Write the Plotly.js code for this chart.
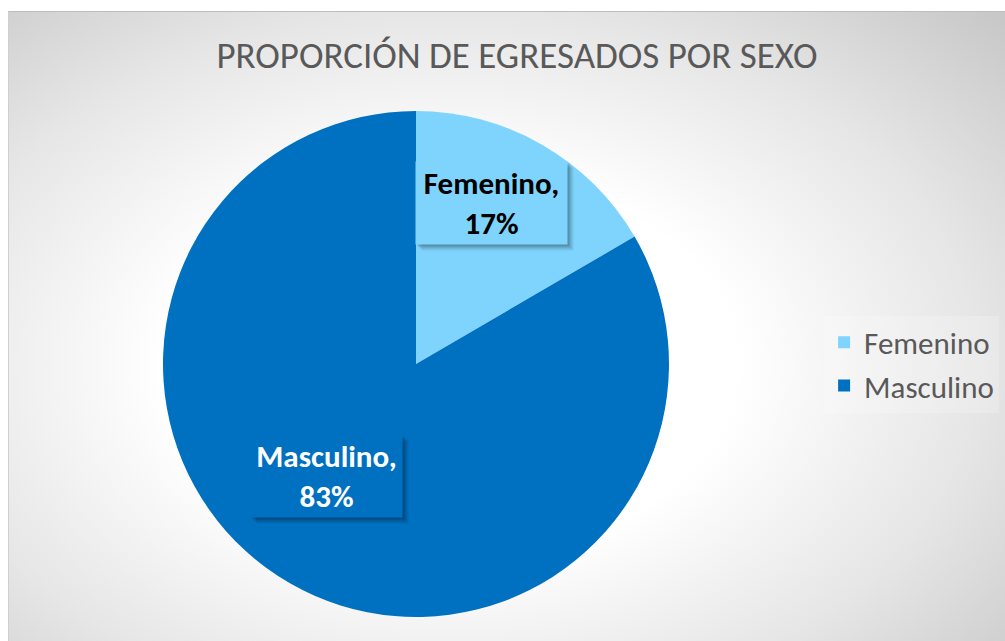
<!DOCTYPE html>
<html>
<head>
<meta charset="utf-8">
<script src="https://cdn.plot.ly/plotly-3.0.1.min.js"></script>
<style>
  html, body { margin: 0; padding: 0; background: #ffffff; }
  #wrap { position: relative; width: 1005px; height: 641px; overflow: hidden; }
  #bg {
    position: absolute; left: 8px; top: 11px; width: 1005px; height: 629px;
    border-top: 1px solid #bdbdbd; border-left: 1px solid #cfcfcf;
    background: radial-gradient(ellipse 75% 80% at 44% 56%, #ffffff 0%, #ffffff 38%, #e6e6e6 70%, #c8c8c8 100%);
  }
  #chart { position: absolute; left: 0; top: 0; width: 1005px; height: 641px; }
</style>
</head>
<body>
<div id="wrap">
  <div id="bg"></div>
  <div id="chart"></div>
</div>
<script>
// ---- data ----
const categories = ["Femenino", "Masculino"];
const shares = [16.6, 83.4];
const sliceColors = ["#7FD4FD", "#0070C0"];
const labelTextColors = ["#000000", "#ffffff"];
const chartTitle = "PROPORCIÓN DE EGRESADOS POR SEXO";

const total = shares.reduce((a, b) => a + b, 0);
const pctText = shares.map(v => Math.round(100 * v / total) + "%");

const trace = {
  type: "pie",
  labels: categories,
  values: shares,
  sort: false,
  direction: "clockwise",
  rotation: 0,
  marker: { colors: sliceColors, line: { width: 0 } },
  textinfo: "none",
  hoverinfo: "skip",
  domain: { x: [163 / 1005, 669 / 1005], y: [1 - 617 / 641, 1 - 111 / 641] }
};

// label boxes (Excel-style data labels with shadow)
const labelPos = [
  { x: 491 / 1005, y: 1 - 203 / 641 },
  { x: 326 / 1005, y: 1 - 476 / 641 }
];
const annotations = [];
categories.forEach((c, i) => {
  const p = labelPos[i];
  [[6, 0.08], [4, 0.12], [2, 0.16]].forEach(([o, a]) => {
    annotations.push({
      xref: "paper", yref: "paper", x: p.x, y: p.y,
      xanchor: "center", yanchor: "middle",
      xshift: o, yshift: -o,
      text: " ", showarrow: false,
      width: 151, height: 82,
      bgcolor: "rgba(0,0,0," + a + ")", borderpad: 0
    });
  });
  annotations.push({
    xref: "paper", yref: "paper", x: p.x, y: p.y,
    xanchor: "center", yanchor: "middle",
    text: c + ",<br>" + pctText[i], showarrow: false,
    width: 151, height: 82, align: "center",
    bgcolor: sliceColors[i], borderpad: 0,
    font: { family: "Carlito, 'Open Sans', sans-serif", size: 31, color: labelTextColors[i], weight: "bold" }
  });
});

const layout = {
  width: 1005, height: 641,
  margin: { l: 0, r: 0, t: 0, b: 0 },
  paper_bgcolor: "rgba(0,0,0,0)",
  plot_bgcolor: "rgba(0,0,0,0)",
  title: {
    text: chartTitle,
    x: 517 / 1005, xanchor: "center",
    y: 1 - 55 / 641, yanchor: "middle",
    font: { family: "Carlito, 'Open Sans', sans-serif", size: 37, color: "#595959", weight: 300 }
  },
  showlegend: true,
  legend: {
    x: 0.82, xanchor: "left",
    y: 1 - 364 / 641, yanchor: "middle",
    bgcolor: "rgba(255,255,255,0.2)",
    font: { family: "Carlito, 'Open Sans', sans-serif", size: 31, color: "#595959" },
    itemclick: false, itemdoubleclick: false,
    tracegroupgap: 0
  },
  annotations: annotations
};

Plotly.newPlot("chart", [trace], layout, { displayModeBar: false, staticPlot: true });
</script>
</body>
</html>
